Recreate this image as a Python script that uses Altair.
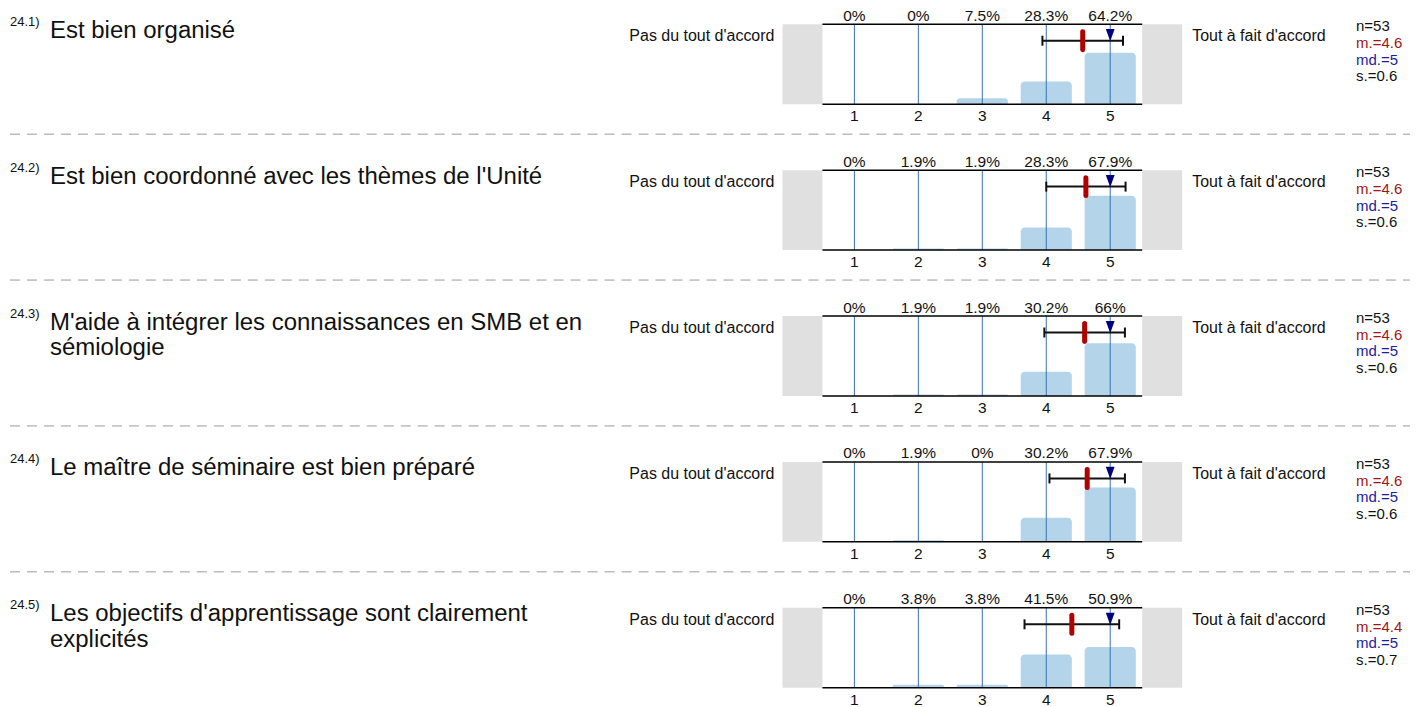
import altair as alt
import pandas as pd

# ---------------- data ----------------
codes = ["24.1)", "24.2)", "24.3)", "24.4)", "24.5)"]
titles = [
    ["Est bien organisé"],
    ["Est bien coordonné avec les thèmes de l'Unité"],
    ["M'aide à intégrer les connaissances en SMB et en", "sémiologie"],
    ["Le maître de séminaire est bien préparé"],
    ["Les objectifs d'apprentissage sont clairement", "explicités"],
]
scale_points = [1, 2, 3, 4, 5]
pcts = [
    [0, 0, 7.5, 28.3, 64.2],
    [0, 1.9, 1.9, 28.3, 67.9],
    [0, 1.9, 1.9, 30.2, 66],
    [0, 1.9, 0, 30.2, 67.9],
    [0, 3.8, 3.8, 41.5, 50.9],
]
ns = [53, 53, 53, 53, 53]
means = [4.57, 4.62, 4.60, 4.64, 4.40]
medians = [5, 5, 5, 5, 5]
sds = [0.63, 0.62, 0.63, 0.59, 0.74]
left_label = "Pas du tout d'accord"
right_label = "Tout à fait d'accord"

# ---------------- style ----------------
FONT = "Liberation Sans"
W = 1403
ROW_H = 146
TOP, BOT = 16, 96
BAR_COLOR = "#b4d4ea"
LINE_BLUE = "#3470b5"
GRAY = "#e0e0e0"
RED = "#b00000"
NAVY = "#00007f"
TXT = "#111111"
TRI = "M-0.72,-1L0.72,-1L0,1Z"

x_scale = alt.Scale(domain=[0.5, 5.5], range=[815, 1135])
y_scale = alt.Scale(domain=[0, 100], range=[BOT, TOP])


def row_chart(i, h, separator=True):
    bars_df = pd.DataFrame({
        "v": scale_points,
        "pct": pcts[i],
        "lbl": [f"{p:g}%" for p in pcts[i]],
    })
    info_df = pd.DataFrame([{
        "mean": means[i],
        "sd": sds[i],
        "lo": means[i] - sds[i],
        "hi": means[i] + sds[i],
        "median": medians[i],
        "code": codes[i],
        "title": "\n".join(titles[i]),
        "left": left_label,
        "right": right_label,
        "n_txt": f"n={ns[i]}",
        "m_txt": f"m.={means[i]:.1f}",
        "md_txt": f"md.={medians[i]:g}",
        "s_txt": f"s.={sds[i]:.1f}",
    }])

    def X(f):
        return alt.X(f, scale=x_scale, axis=None)

    base_b = alt.Chart(bars_df)
    base_i = alt.Chart(info_df)

    gray_l = base_i.mark_rect(color=GRAY).encode(
        x=alt.value(775), x2=alt.value(815), y=alt.value(TOP), y2=alt.value(BOT))
    gray_r = base_i.mark_rect(color=GRAY).encode(
        x=alt.value(1135), x2=alt.value(1175), y=alt.value(TOP), y2=alt.value(BOT))

    bars = base_b.transform_calculate(
        x0="datum.v - 0.4", x1="datum.v + 0.4"
    ).mark_bar(color=BAR_COLOR, cornerRadiusTopLeft=4, cornerRadiusTopRight=4).encode(
        x=X("x0:Q"), x2="x1:Q",
        y=alt.Y("pct:Q", scale=y_scale, axis=None), y2=alt.value(BOT))

    vlines = base_b.mark_rule(color=LINE_BLUE, strokeWidth=1).encode(
        x=X("v:Q"), y=alt.value(TOP), y2=alt.value(BOT))

    top_line = base_i.mark_rule(color="black", strokeWidth=1.5).encode(
        x=alt.value(815), x2=alt.value(1135), y=alt.value(TOP))
    bot_line = base_i.mark_rule(color="black", strokeWidth=1.5).encode(
        x=alt.value(815), x2=alt.value(1135), y=alt.value(BOT))

    pct_lbl = base_b.mark_text(fontSize=15.5, baseline="alphabetic", color=TXT).encode(
        x=X("v:Q"), y=alt.value(12.5), text="lbl:N")
    tick_lbl = base_b.mark_text(fontSize=15.5, baseline="alphabetic", color=TXT).encode(
        x=X("v:Q"), y=alt.value(113), text="v:Q")

    err = base_i.mark_rule(color=TXT, strokeWidth=2).encode(
        x=X("lo:Q"), x2="hi:Q", y=alt.value(32.5))
    cap_l = base_i.mark_rule(color=TXT, strokeWidth=2).encode(
        x=X("lo:Q"), y=alt.value(27.5), y2=alt.value(37.5))
    cap_r = base_i.mark_rule(color=TXT, strokeWidth=2).encode(
        x=X("hi:Q"), y=alt.value(27.5), y2=alt.value(37.5))
    mean_m = base_i.mark_rule(color=RED, strokeWidth=5, strokeCap="round").encode(
        x=X("mean:Q"), y=alt.value(23.5), y2=alt.value(41.5))
    med_m = base_i.mark_point(shape=TRI, filled=True, size=150,
                              color=NAVY, opacity=1).encode(
        x=X("median:Q"), y=alt.value(27))

    code_t = base_i.mark_text(fontSize=13, align="left", baseline="alphabetic",
                              color=TXT).encode(
        x=alt.value(2), y=alt.value(17.5), text="code:N")
    title_t = base_i.mark_text(fontSize=24, align="left", baseline="alphabetic",
                               lineHeight=26, lineBreak="\n", color=TXT).encode(
        x=alt.value(42), y=alt.value(29.5), text="title:N")
    left_t = base_i.mark_text(fontSize=16, align="right", baseline="alphabetic",
                              color=TXT).encode(
        x=alt.value(767), y=alt.value(33), text="left:N")
    right_t = base_i.mark_text(fontSize=16, align="left", baseline="alphabetic",
                               color=TXT).encode(
        x=alt.value(1185), y=alt.value(33), text="right:N")
    n_t = base_i.mark_text(fontSize=15, align="left", baseline="alphabetic",
                           color=TXT).encode(
        x=alt.value(1349), y=alt.value(23), text="n_txt:N")
    m_t = base_i.mark_text(fontSize=15, align="left", baseline="alphabetic",
                           color="#a01515").encode(
        x=alt.value(1349), y=alt.value(39.7), text="m_txt:N")
    md_t = base_i.mark_text(fontSize=15, align="left", baseline="alphabetic",
                            color="#1c1ca0").encode(
        x=alt.value(1349), y=alt.value(56.4), text="md_txt:N")
    s_t = base_i.mark_text(fontSize=15, align="left", baseline="alphabetic",
                           color=TXT).encode(
        x=alt.value(1349), y=alt.value(73), text="s_txt:N")

    layers = [gray_l, gray_r, bars, vlines, top_line, bot_line, pct_lbl, tick_lbl,
              err, cap_l, cap_r, mean_m, med_m, code_t, title_t, left_t, right_t,
              n_t, m_t, md_t, s_t]
    if separator:
        sep = base_i.mark_rule(color="#9a9a9a", strokeWidth=1, strokeDash=[10, 7]).encode(
            x=alt.value(2), x2=alt.value(W), y=alt.value(126))
        layers.append(sep)
    return alt.layer(*layers).properties(width=W, height=h)


rows = [row_chart(i, ROW_H) for i in range(4)] + [row_chart(4, 110, separator=False)]

chart = alt.vconcat(*rows, spacing=0).properties(padding=0).configure_view(
    stroke=None
).configure_text(font=FONT)

chart.save("out.html", embed_options={"renderer": "svg", "actions": False})
